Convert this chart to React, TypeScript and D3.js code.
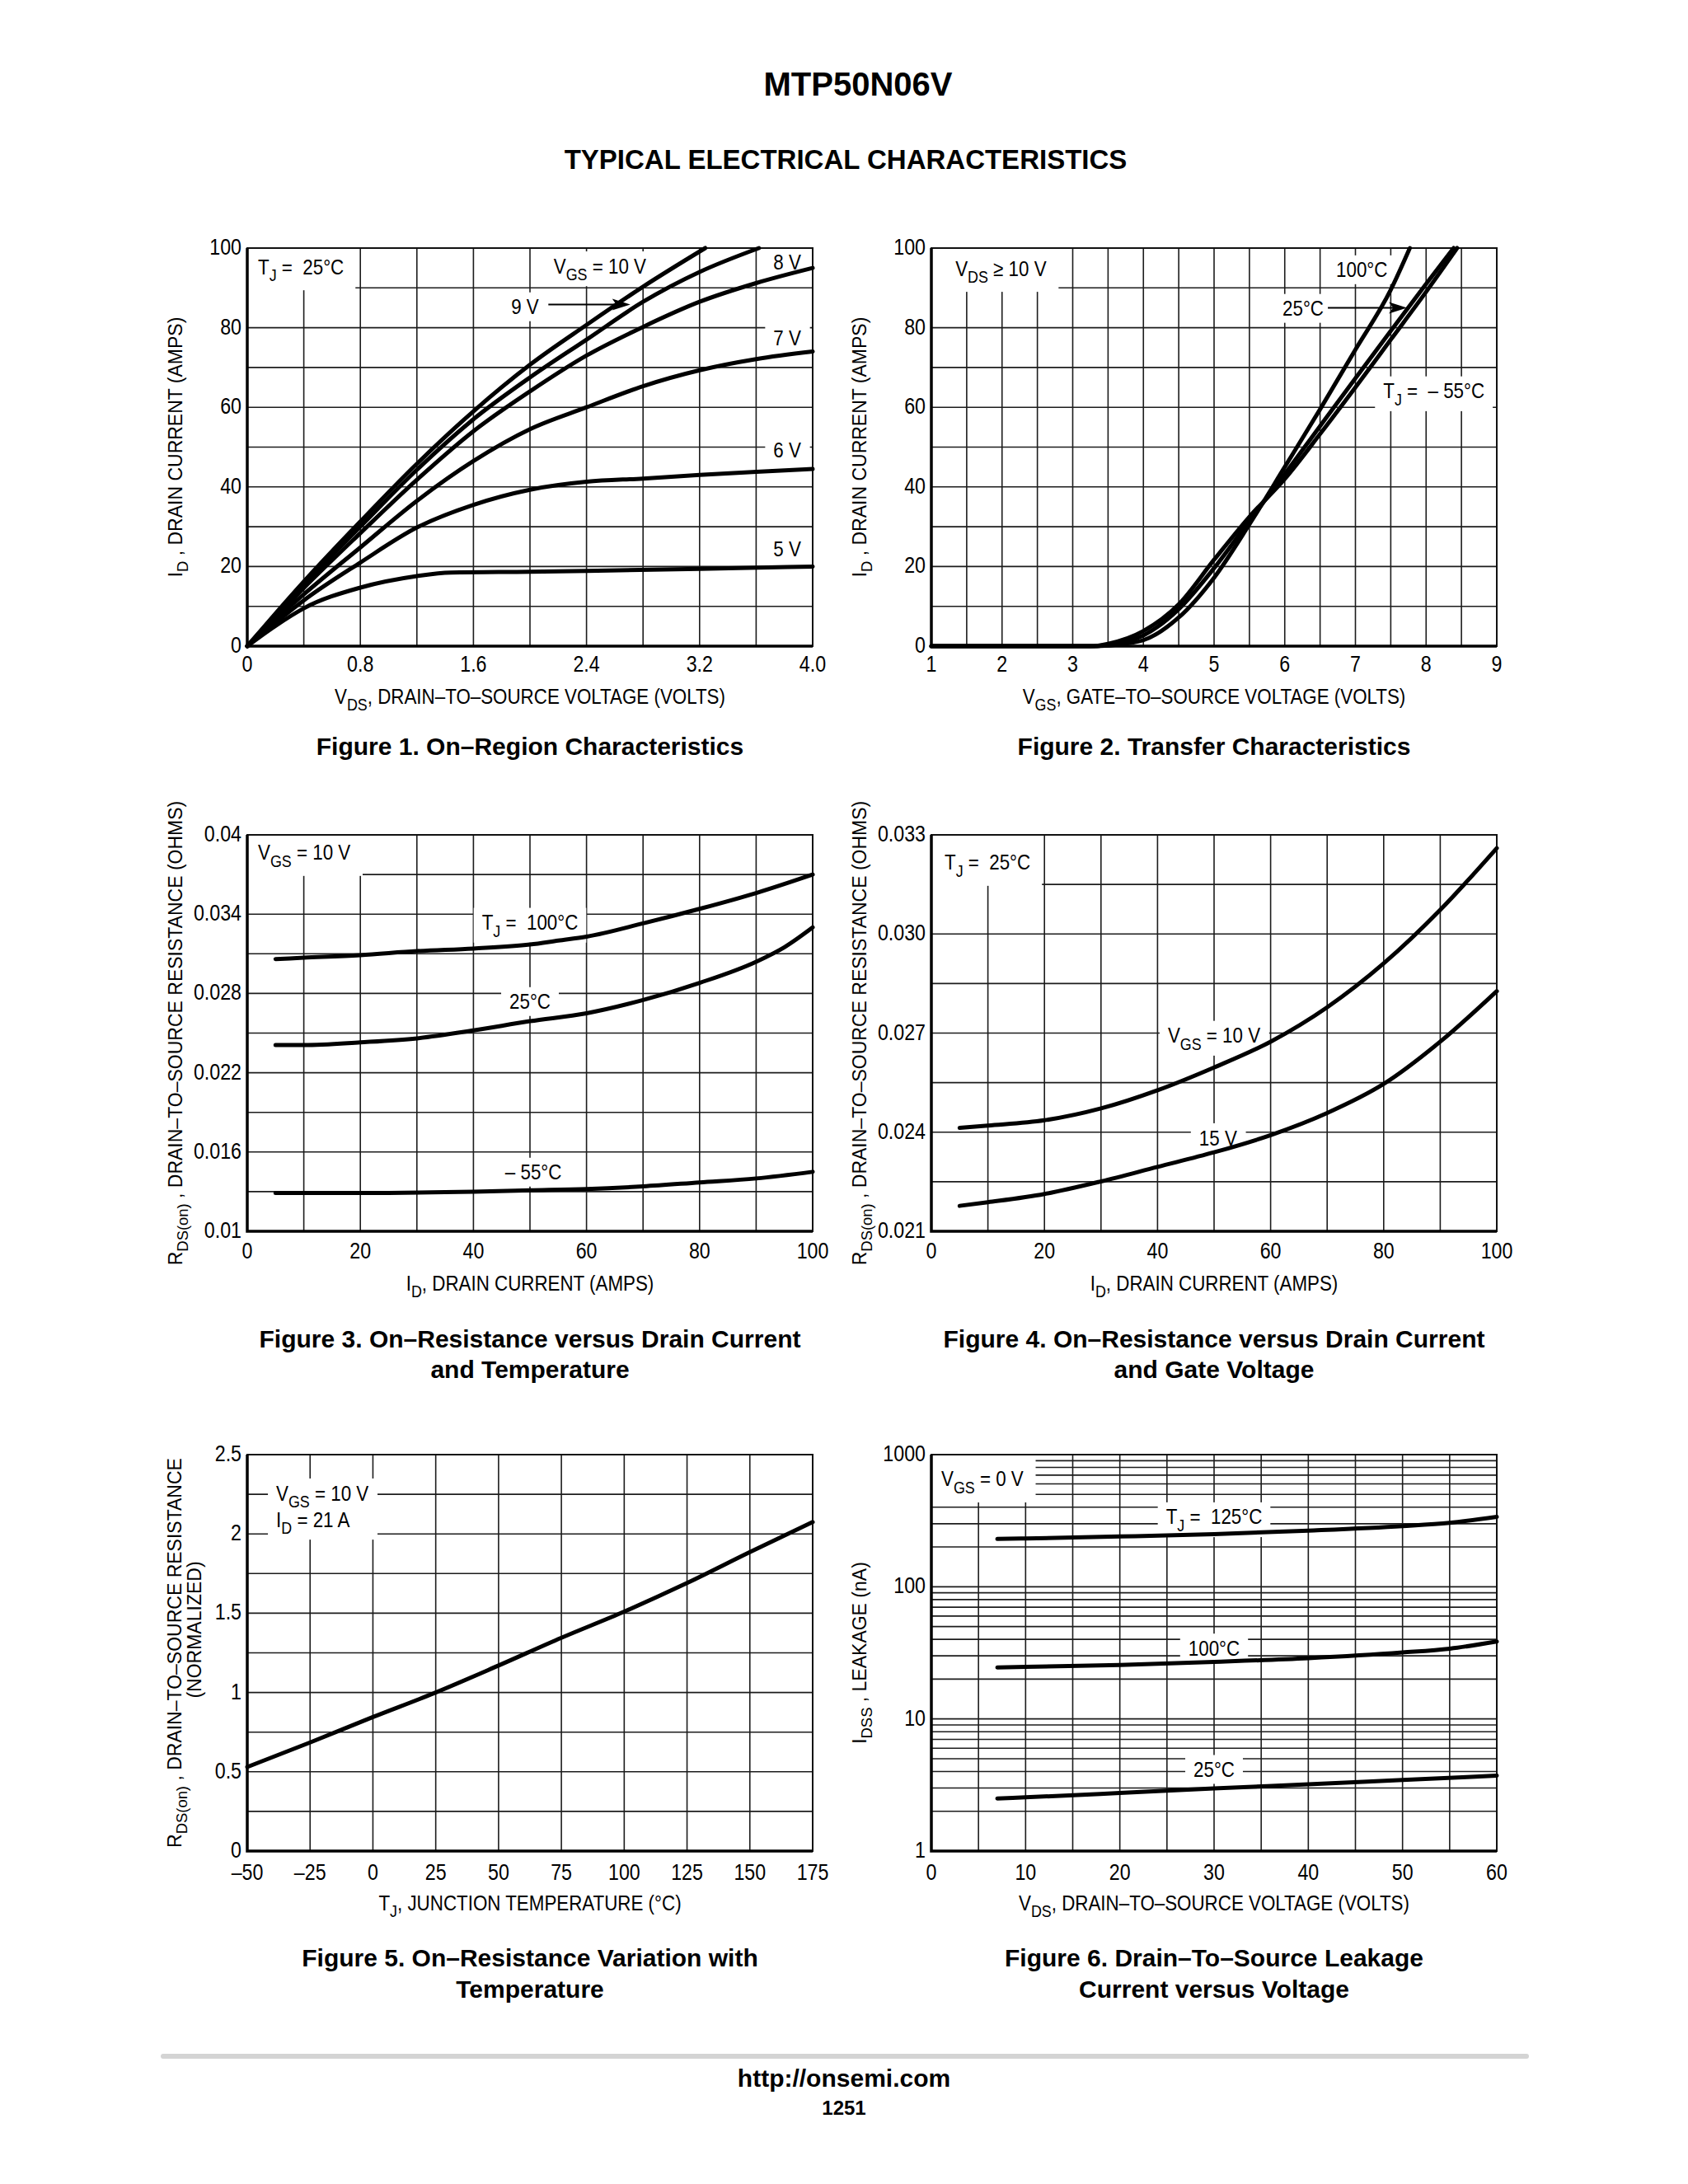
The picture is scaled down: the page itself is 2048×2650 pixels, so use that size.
import { useEffect, useRef } from "react";
import * as d3 from "d3";

type Pt = [number, number];

const FONT = '"Liberation Sans", Arial, Helvetica, sans-serif';
const FS = 26; // in-plot notes and x titles
const TICK_FS = 27;
const YT_FS = 23; // rotated y titles, regular width
const SQUEEZE = 0.86; // horizontal scale giving a condensed Helvetica look

// Figure 1: VDS (V) vs ID (A), one curve per VGS
const fig1Vgs10: Pt[] = [[0, 0], [0.2, 8.2], [0.4, 16.2], [0.8, 31.3], [1.2, 45.8], [1.6, 59], [2.0, 70.7], [2.4, 80.7], [2.8, 90.3], [3.24, 100]];
const fig1Vgs9: Pt[] = [[0, 0], [0.2, 7.8], [0.4, 15.5], [0.8, 30], [1.2, 44.3], [1.6, 57], [2.0, 67.5], [2.4, 77], [2.8, 86.5], [3.2, 94], [3.62, 100]];
const fig1Vgs8: Pt[] = [[0, 0], [0.2, 7.3], [0.4, 14.6], [0.8, 28.4], [1.2, 41.8], [1.6, 54], [2.0, 64], [2.4, 73], [2.8, 80.2], [3.2, 86.5], [3.6, 91.2], [4.0, 95]];
const fig1Vgs7: Pt[] = [[0, 0], [0.2, 6.7], [0.4, 13], [0.8, 24.8], [1.2, 36.5], [1.6, 46.5], [2.0, 54.5], [2.4, 60], [2.8, 65.3], [3.2, 69.3], [3.6, 72.1], [4.0, 74]];
const fig1Vgs6: Pt[] = [[0, 0], [0.2, 5.9], [0.4, 11.5], [0.8, 21], [1.2, 29.8], [1.6, 35.5], [2.0, 39.3], [2.4, 41.3], [2.8, 42.1], [3.2, 43], [3.6, 43.8], [4.0, 44.5]];
const fig1Vgs5: Pt[] = [[0, 0], [0.2, 5.1], [0.4, 9.5], [0.8, 14.7], [1.2, 17.6], [1.44, 18.5], [2.0, 18.7], [2.4, 18.9], [3.2, 19.4], [4.0, 20]];
const fig1XTicks = [0, 0.8, 1.6, 2.4, 3.2, 4.0];
const fig1XLabels = ["0", "0.8", "1.6", "2.4", "3.2", "4.0"];
const idTicks = [0, 20, 40, 60, 80, 100];
const idLabels = ["0", "20", "40", "60", "80", "100"];

// Figure 2: VGS (V) vs ID (A), one curve per TJ
const fig2Tj100: Pt[] = [[1, 0], [3.35, 0], [3.6, 0.3], [4, 1.5], [4.5, 7.2], [5, 17.2], [5.5, 30.6], [6, 45], [6.5, 59.5], [7, 74.5], [7.5, 89.5], [7.77, 100]];
const fig2Tj25: Pt[] = [[1, 0], [3.3, 0], [3.5, 0.4], [4, 2.7], [4.5, 9.3], [5, 19.6], [5.5, 31.5], [6, 43.2], [6.5, 55.3], [7, 67.3], [7.5, 79.2], [8, 91], [8.39, 100]];
const fig2TjM55: Pt[] = [[1, 0], [3.25, 0], [3.5, 0.6], [4, 3.8], [4.5, 10.5], [5, 21.7], [5.5, 32.5], [6, 42], [6.5, 53.3], [7, 65], [7.5, 77], [8, 89], [8.44, 100]];
const fig2XTicks = [1, 2, 3, 4, 5, 6, 7, 8, 9];

// Figure 3: ID (A) vs RDS(on) (ohms), one curve per TJ
const fig3Tj100: Pt[] = [[5, 0.0306], [10, 0.0307], [20, 0.0309], [30, 0.0312], [40, 0.0314], [50, 0.0317], [55, 0.032], [60, 0.0323], [70, 0.0333], [80, 0.0344], [90, 0.0356], [100, 0.037]];
const fig3Tj25: Pt[] = [[5, 0.0241], [10, 0.0241], [20, 0.0243], [30, 0.0246], [40, 0.0252], [50, 0.0259], [60, 0.0265], [70, 0.0275], [80, 0.0288], [90, 0.0304], [95, 0.0315], [100, 0.033]];
const fig3TjM55: Pt[] = [[5, 0.0129], [20, 0.0129], [40, 0.013], [50, 0.0131], [60, 0.0132], [70, 0.0134], [80, 0.0137], [90, 0.014], [100, 0.0145]];
const fig3YTicks = [0.01, 0.016, 0.022, 0.028, 0.034, 0.04];
const fig3YLabels = ["0.01", "0.016", "0.022", "0.028", "0.034", "0.04"];
const currentTicks = [0, 20, 40, 60, 80, 100];

// Figure 4: ID (A) vs RDS(on) (ohms), one curve per VGS
const fig4Vgs10: Pt[] = [[5, 0.02413], [10, 0.0242], [20, 0.02436], [30, 0.02472], [40, 0.02527], [50, 0.02596], [60, 0.02674], [70, 0.02778], [80, 0.02911], [90, 0.03073], [100, 0.0326]];
const fig4Vgs15: Pt[] = [[5, 0.02177], [10, 0.02188], [20, 0.02213], [30, 0.02251], [40, 0.02295], [50, 0.02339], [60, 0.02391], [70, 0.02458], [80, 0.02546], [90, 0.02674], [100, 0.02827]];
const fig4YTicks = [0.021, 0.024, 0.027, 0.03, 0.033];
const fig4YLabels = ["0.021", "0.024", "0.027", "0.030", "0.033"];

// Figure 5: TJ (°C) vs normalized RDS(on)
const fig5Curve: Pt[] = [[-50, 0.53], [-25, 0.685], [0, 0.845], [25, 1.0], [50, 1.17], [75, 1.345], [100, 1.51], [125, 1.69], [150, 1.885], [175, 2.075]];
const fig5XTicks = [-50, -25, 0, 25, 50, 75, 100, 125, 150, 175];
const fig5XLabels = ["–50", "–25", "0", "25", "50", "75", "100", "125", "150", "175"];
const fig5YTicks = [0, 0.5, 1, 1.5, 2, 2.5];
const fig5YLabels = ["0", "0.5", "1", "1.5", "2", "2.5"];

// Figure 6: VDS (V) vs IDSS (nA), log scale, one curve per TJ
const fig6Tj125: Pt[] = [[7, 230], [10, 232], [20, 240], [30, 250], [40, 266], [50, 288], [55, 305], [60, 338]];
const fig6Tj100: Pt[] = [[7, 24.5], [10, 24.8], [20, 25.6], [30, 27], [40, 28.8], [50, 31.8], [55, 34], [60, 38.5]];
const fig6Tj25: Pt[] = [[7, 2.5], [10, 2.55], [20, 2.75], [30, 2.98], [40, 3.2], [50, 3.45], [60, 3.72]];
const fig6XTicks = [0, 10, 20, 30, 40, 50, 60];
const fig6YTicks = [1, 10, 100, 1000];

interface Note { x: number; y: number; lines: string[]; anchor?: "start" | "middle"; corner?: boolean }
interface Arrow { x1: number; x2: number; y: number }
interface Chart {
  left: number; top: number; width: number; height: number;
  xDomain: [number, number]; yDomain: [number, number]; yLog?: boolean;
  xGrid: number[]; yGrid: number[];
  xTicks: number[]; xLabels: string[]; yTicks: number[]; yLabels: string[];
  xTitle: string; yTitle: { text: string; dx: number; dy: number }[];
  curves: Pt[][]; notes: Note[]; arrows: Arrow[];
  caption: string[]; captionY: number[];
  tickDy: number; titleDy: number;
}

const str = (a: number[]) => a.map(String);
const logGrid = [1, 10, 100].flatMap((d) => d3.range(1, 10).map((k) => k * d)).concat([1000]);

const charts: Chart[] = [
  {
    left: 300, top: 301, width: 686, height: 483,
    xDomain: [0, 4], yDomain: [0, 100],
    xGrid: d3.range(11).map((i) => i * 0.4), yGrid: d3.range(11).map((i) => i * 10),
    xTicks: fig1XTicks, xLabels: fig1XLabels, yTicks: idTicks, yLabels: idLabels,
    xTitle: "V_{DS}, DRAIN–TO–SOURCE VOLTAGE (VOLTS)",
    yTitle: [{ text: "I_{D} , DRAIN CURRENT (AMPS)", dx: -79, dy: 0 }],
    curves: [fig1Vgs10, fig1Vgs9, fig1Vgs8, fig1Vgs7, fig1Vgs6, fig1Vgs5],
    notes: [
      { x: 0.076, y: 95.4, lines: ["T_{J} =  25°C"], anchor: "start", corner: true },
      { x: 2.495, y: 95.6, lines: ["V_{GS} = 10 V"] },
      { x: 1.965, y: 85.3, lines: ["9 V"] },
      { x: 3.82, y: 96.6, lines: ["8 V"] },
      { x: 3.82, y: 77.6, lines: ["7 V"] },
      { x: 3.82, y: 49.3, lines: ["6 V"] },
      { x: 3.82, y: 24.6, lines: ["5 V"] },
    ],
    arrows: [{ x1: 2.13, x2: 2.71, y: 85.8 }],
    caption: ["Figure 1. On–Region Characteristics"], captionY: [916],
    tickDy: 31, titleDy: 70,
  },
  {
    left: 1130, top: 301, width: 686, height: 483,
    xDomain: [1, 9], yDomain: [0, 100],
    xGrid: d3.range(17).map((i) => 1 + i * 0.5), yGrid: d3.range(11).map((i) => i * 10),
    xTicks: fig2XTicks, xLabels: str(fig2XTicks), yTicks: idTicks, yLabels: idLabels,
    xTitle: "V_{GS}, GATE–TO–SOURCE VOLTAGE (VOLTS)",
    yTitle: [{ text: "I_{D} , DRAIN CURRENT (AMPS)", dx: -79, dy: 0 }],
    curves: [fig2Tj100, fig2Tj25, fig2TjM55],
    notes: [
      { x: 1.34, y: 95, lines: ["V_{DS} ≥ 10 V"], anchor: "start", corner: true },
      { x: 7.09, y: 94.6, lines: ["100°C"] },
      { x: 6.26, y: 84.9, lines: ["25°C"] },
      { x: 8.11, y: 64.2, lines: ["T_{J} =  – 55°C"] },
    ],
    arrows: [{ x1: 6.61, x2: 7.73, y: 85 }],
    caption: ["Figure 2. Transfer Characteristics"], captionY: [916],
    tickDy: 31, titleDy: 70,
  },
  {
    left: 300, top: 1013, width: 686, height: 481,
    xDomain: [0, 100], yDomain: [0.01, 0.04],
    xGrid: d3.range(11).map((i) => i * 10), yGrid: d3.range(11).map((i) => 0.01 + i * 0.003),
    xTicks: currentTicks, xLabels: str(currentTicks), yTicks: fig3YTicks, yLabels: fig3YLabels,
    xTitle: "I_{D}, DRAIN CURRENT (AMPS)",
    yTitle: [{ text: "R_{DS(on)} , DRAIN–TO–SOURCE RESISTANCE (OHMS)", dx: -79, dy: 0 }],
    curves: [fig3Tj100, fig3Tj25, fig3TjM55],
    notes: [
      { x: 1.9, y: 0.0387, lines: ["V_{GS} = 10 V"], anchor: "start", corner: true },
      { x: 50, y: 0.0334, lines: ["T_{J} =  100°C"] },
      { x: 50, y: 0.0274, lines: ["25°C"] },
      { x: 50.6, y: 0.01449, lines: ["– 55°C"] },
    ],
    arrows: [],
    caption: ["Figure 3. On–Resistance versus Drain Current", "and Temperature"], captionY: [1635, 1672],
    tickDy: 33, titleDy: 72,
  },
  {
    left: 1130, top: 1013, width: 686, height: 481,
    xDomain: [0, 100], yDomain: [0.021, 0.033],
    xGrid: d3.range(11).map((i) => i * 10), yGrid: d3.range(9).map((i) => 0.021 + i * 0.0015),
    xTicks: currentTicks, xLabels: str(currentTicks), yTicks: fig4YTicks, yLabels: fig4YLabels,
    xTitle: "I_{D}, DRAIN CURRENT (AMPS)",
    yTitle: [{ text: "R_{DS(on)} , DRAIN–TO–SOURCE RESISTANCE (OHMS)", dx: -79, dy: 0 }],
    curves: [fig4Vgs10, fig4Vgs15],
    notes: [
      { x: 2.33, y: 0.03218, lines: ["T_{J} =  25°C"], anchor: "start", corner: true },
      { x: 50, y: 0.02694, lines: ["V_{GS} = 10 V"] },
      { x: 50.7, y: 0.02384, lines: ["15 V"] },
    ],
    arrows: [],
    caption: ["Figure 4. On–Resistance versus Drain Current", "and Gate Voltage"], captionY: [1635, 1672],
    tickDy: 33, titleDy: 72,
  },
  {
    left: 300, top: 1765, width: 686, height: 481,
    xDomain: [-50, 175], yDomain: [0, 2.5],
    xGrid: d3.range(10).map((i) => -50 + i * 25), yGrid: d3.range(11).map((i) => i * 0.25),
    xTicks: fig5XTicks, xLabels: fig5XLabels, yTicks: fig5YTicks, yLabels: fig5YLabels,
    xTitle: "T_{J}, JUNCTION TEMPERATURE (°C)",
    yTitle: [
      { text: "R_{DS(on)} , DRAIN–TO–SOURCE RESISTANCE", dx: -80, dy: 0 },
      { text: "(NORMALIZED)", dx: -56, dy: -28 },
    ],
    curves: [fig5Curve],
    notes: [{ x: -38.5, y: 2.26, lines: ["V_{GS} = 10 V", "I_{D} = 21 A"], anchor: "start" }],
    arrows: [],
    caption: ["Figure 5. On–Resistance Variation with", "Temperature"], captionY: [2386, 2424],
    tickDy: 35, titleDy: 72,
  },
  {
    left: 1130, top: 1765, width: 686, height: 481,
    xDomain: [0, 60], yDomain: [1, 1000], yLog: true,
    xGrid: d3.range(13).map((i) => i * 5), yGrid: logGrid,
    xTicks: fig6XTicks, xLabels: str(fig6XTicks), yTicks: fig6YTicks, yLabels: str(fig6YTicks),
    xTitle: "V_{DS}, DRAIN–TO–SOURCE VOLTAGE (VOLTS)",
    yTitle: [{ text: "I_{DSS} , LEAKAGE (nA)", dx: -79, dy: 0 }],
    curves: [fig6Tj125, fig6Tj100, fig6Tj25],
    notes: [
      { x: 1.05, y: 659, lines: ["V_{GS} = 0 V"], anchor: "start", corner: true },
      { x: 30, y: 340, lines: ["T_{J} =  125°C"] },
      { x: 30, y: 34.5, lines: ["100°C"] },
      { x: 30, y: 4.16, lines: ["25°C"] },
    ],
    arrows: [],
    caption: ["Figure 6. Drain–To–Source Leakage", "Current versus Voltage"], captionY: [2386, 2424],
    tickDy: 35, titleDy: 72,
  },
];

type Sel = d3.Selection<any, unknown, null, undefined>;

// text with _{...} parts set as subscripts
function richText(parent: Sel, s: string, fs: number) {
  const t = parent.append("text").attr("font-size", fs).style("white-space", "pre");
  const sub = fs * 0.32;
  let down = false;
  s.split(/(_\{[^}]*\})/).filter((p) => p.length).forEach((p) => {
    if (p.startsWith("_{")) {
      t.append("tspan").attr("font-size", fs * 0.8).attr("dy", down ? 0 : sub).text(p.slice(2, -1));
      down = true;
    } else {
      t.append("tspan").attr("dy", down ? -sub : 0).text(p);
      down = false;
    }
  });
  return t;
}

// condensed text: squeezed horizontally around its anchor point; returns page-space bbox
function narrowText(parent: Sel, x: number, y: number, s: string, fs: number, anchor: string) {
  const g = parent.append("g").attr("transform", `translate(${x},${y}) scale(${SQUEEZE},1)`);
  const t = richText(g, s, fs).attr("text-anchor", anchor);
  const b = (t.node() as SVGTextElement).getBBox();
  return { x0: x + b.x * SQUEEZE, x1: x + (b.x + b.width) * SQUEEZE, y0: y + b.y, y1: y + b.y + b.height };
}

function drawChart(svg: Sel, c: Chart) {
  const { left, top, width, height } = c;
  const right = left + width;
  const bottom = top + height;
  const x = d3.scaleLinear().domain(c.xDomain).range([left, right]);
  const y = c.yLog
    ? d3.scaleLog().domain(c.yDomain).range([bottom, top])
    : d3.scaleLinear().domain(c.yDomain).range([bottom, top]);

  const g = svg.append("g");

  g.append("g").attr("stroke", "#1c1c1c").attr("stroke-width", 1.6)
    .selectAll("line").data(c.xGrid).join("line")
    .attr("x1", (d) => x(d)).attr("x2", (d) => x(d)).attr("y1", top).attr("y2", bottom);
  g.append("g").attr("stroke", "#1c1c1c").attr("stroke-width", 1.6)
    .selectAll("line").data(c.yGrid).join("line")
    .attr("x1", left).attr("x2", right).attr("y1", (d) => y(d)).attr("y2", (d) => y(d));

  const boxes = g.append("g").attr("fill", "#fff");

  // frame, heavier on the two axes
  g.append("rect").attr("x", left).attr("y", top).attr("width", width).attr("height", height)
    .attr("fill", "none").attr("stroke", "#111").attr("stroke-width", 2);
  g.append("path").attr("d", `M${left},${top}V${bottom}H${right}`)
    .attr("fill", "none").attr("stroke", "#000").attr("stroke-width", 3.5);

  const line = d3.line<Pt>().x((d) => x(d[0])).y((d) => y(d[1])).curve(d3.curveMonotoneX);
  g.append("g").selectAll("path").data(c.curves).join("path")
    .attr("d", (d) => line(d)).attr("fill", "none").attr("stroke", "#000")
    .attr("stroke-width", 5).attr("stroke-linecap", "round").attr("stroke-linejoin", "round");

  const notes = g.append("g").attr("fill", "#000");
  c.notes.forEach((n) => {
    let x0 = Infinity, y0 = Infinity, x1 = -Infinity, y1 = -Infinity;
    n.lines.forEach((ln, i) => {
      const b = narrowText(notes, x(n.x), y(n.y) + FS * 0.36 + i * 32, ln, FS, n.anchor ?? "middle");
      x0 = Math.min(x0, b.x0); y0 = Math.min(y0, b.y0);
      x1 = Math.max(x1, b.x1); y1 = Math.max(y1, b.y1);
    });
    x0 -= 10; x1 += 10; y0 -= 3; y1 += 3;
    if (n.corner) { x0 = left + 1; y0 = top + 1; x1 += 4; y1 += 4; }
    x1 = Math.min(x1, right - 1);
    boxes.append("rect").attr("x", x0).attr("y", y0).attr("width", x1 - x0).attr("height", y1 - y0);
  });

  c.arrows.forEach((a) => {
    const ay = y(a.y);
    const xs = x(a.x1);
    const xe = x(a.x2);
    g.append("line").attr("x1", xs).attr("x2", xe - 14).attr("y1", ay).attr("y2", ay)
      .attr("stroke", "#000").attr("stroke-width", 2);
    g.append("path").attr("d", `M${xe},${ay}L${xe - 22},${ay - 7}L${xe - 17},${ay}L${xe - 22},${ay + 7}Z`)
      .attr("fill", "#000");
  });

  const ticks = g.append("g");
  c.xTicks.forEach((d, i) => narrowText(ticks, x(d), bottom + c.tickDy, c.xLabels[i], TICK_FS, "middle"));
  c.yTicks.forEach((d, i) => narrowText(ticks, left - 7, y(d) + 8, c.yLabels[i], TICK_FS, "end"));

  narrowText(g, left + width / 2, bottom + c.titleDy, c.xTitle, FS, "middle");
  c.yTitle.forEach((t) => {
    richText(g, t.text, YT_FS)
      .attr("text-anchor", "middle")
      .attr("transform", `translate(${left + t.dx},${top + height / 2 + t.dy}) rotate(-90)`);
  });

  c.caption.forEach((s, i) => {
    g.append("text").attr("x", left + width / 2).attr("y", c.captionY[i])
      .attr("text-anchor", "middle").attr("font-size", 30).attr("font-weight", "bold").text(s);
  });
}

export default function App() {
  const ref = useRef<SVGSVGElement>(null);

  useEffect(() => {
    const svg = d3.select(ref.current) as unknown as Sel;
    svg.selectAll("*").remove();
    svg.append("rect").attr("width", 2048).attr("height", 2650).attr("fill", "#fff");

    svg.append("text").attr("x", 1041).attr("y", 116).attr("text-anchor", "middle")
      .attr("font-size", 40).attr("font-weight", "bold").text("MTP50N06V");
    svg.append("text").attr("x", 1026).attr("y", 205).attr("text-anchor", "middle")
      .attr("font-size", 33).attr("font-weight", "bold").text("TYPICAL ELECTRICAL CHARACTERISTICS");

    charts.forEach((c) => drawChart(svg, c));

    svg.append("line").attr("x1", 198).attr("x2", 1852).attr("y1", 2495).attr("y2", 2495)
      .attr("stroke", "#d4d4d4").attr("stroke-width", 6).attr("stroke-linecap", "round");
    svg.append("text").attr("x", 1024).attr("y", 2532).attr("text-anchor", "middle")
      .attr("font-size", 30).attr("font-weight", "bold").text("http://onsemi.com");
    svg.append("text").attr("x", 1024).attr("y", 2566).attr("text-anchor", "middle")
      .attr("font-size", 24).attr("font-weight", "bold").text("1251");
  }, []);

  return (
    <svg
      ref={ref}
      width={2048}
      height={2650}
      style={{ position: "absolute", left: 0, top: 0, fontFamily: FONT }}
    />
  );
}
